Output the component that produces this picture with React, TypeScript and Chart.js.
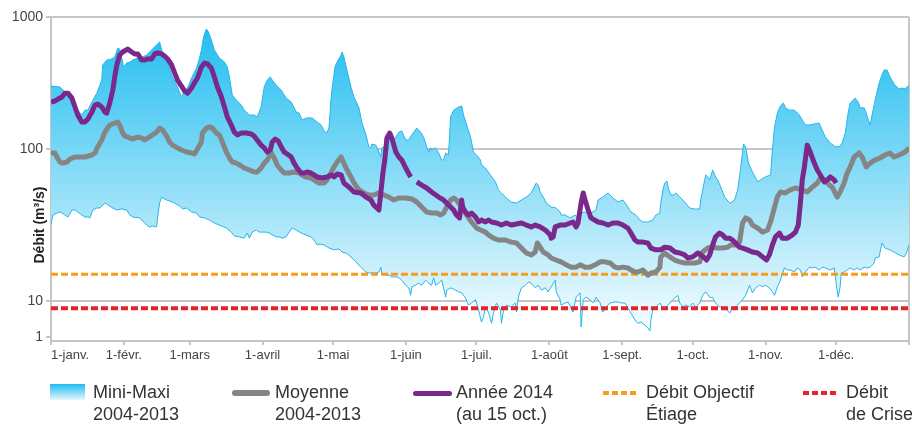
import React, { useEffect, useRef } from 'react';
import { Chart, registerables, LogarithmicScale } from 'chart.js';

Chart.register(...registerables);

// ---------- data ----------
const monthDays = [0, 31, 59, 90, 120, 151, 181, 212, 243, 273, 304, 334, 365];
const monthLabels = ['1-janv.', '1-févr.', '1-mars', '1-avril', '1-mai', '1-juin', '1-juil.', '1-août', '1-sept.', '1-oct.', '1-nov.', '1-déc.', ''];
const yTicks = [1, 10, 100, 1000];
const yTitle = 'Débit (m³/s)';
const objectifEtiage = 15;
const debitCrise = 6.3;

// [day of year, m3/s]
const maxiSeries = [[0,300],[3.8,295],[5.9,270],[8.1,235],[10.2,208],[13.1,181],[14.4,197],[15.7,197],[17.4,227],[19.5,265],[21.6,333],[22,433],[23.7,472],[25.9,481],[27.1,498],[28.4,582],[29.2,572],[30.1,489],[30.9,418],[32.2,448],[33.5,456],[34.8,472],[36.9,489],[39,498],[40.7,515],[42.8,563],[44.9,614],[46.2,647],[47.1,563],[47.5,534],[49.6,448],[51.7,351],[53.8,295],[55.5,248],[56.8,280],[58.1,290],[59.8,345],[61.9,411],[63.2,489],[64,563],[64.9,705],[66.1,811],[67,769],[68.2,670],[69.5,563],[71.6,489],[73.8,456],[75,418],[75.9,351],[77.1,256],[78.8,235],[81,215],[82.2,197],[84.4,181],[86.5,181],[87.7,175],[89.4,208],[90.7,295],[92,333],[93.3,351],[94.1,333],[95.8,305],[97.9,280],[100,243],[102.2,227],[104.3,191],[105.6,187],[106.8,166],[108.9,172],[111.1,172],[113.2,160],[114.9,152],[116.2,137],[117.4,132],[118.3,147],[119.1,235],[119.5,280],[120.8,418],[121.7,456],[123.4,515],[123.8,543],[124.6,498],[125.9,396],[127.6,295],[128.9,248],[131,205],[132.3,157],[134,128],[135.2,104],[136.1,102],[136.5,109],[138.2,107],[139.5,95.5],[140.3,88.6],[140.7,102],[141.6,104],[142.9,107],[144.6,128],[145.8,117],[148,134],[149.2,137],[150.9,117],[152.2,117],[153.5,128],[155.6,144],[157.3,134],[158.5,123],[159.8,104],[160.7,95.5],[161.5,102],[161.9,98.5],[163.6,102],[164.9,94.1],[166.2,84.7],[167,84.7],[167.9,94.1],[169.1,91.3],[170,175],[171.3,197],[173.4,208],[174.7,212],[175.5,181],[176.8,152],[178.5,123],[179.7,95.5],[181,91.3],[182.7,84.7],[183.1,78.5],[184.8,75],[186.9,67.5],[189.1,60.7],[190.3,53.8],[191.6,51.4],[193.7,47.6],[195.8,44.8],[198,44.1],[200.1,46.2],[202.2,48.3],[204.3,51.4],[206,57.9],[206.4,59.7],[207.3,57.9],[208.1,52.1],[209.4,48.3],[210.7,44.1],[212.8,41.5],[214.9,40.9],[216.6,38.5],[217,36.8],[218.7,36.8],[220.9,35.2],[223,36.8],[224.2,35.2],[225.5,37.9],[227.2,38.5],[229.7,37.9],[231.9,39.7],[232.7,46.2],[234.8,48.3],[237,51.4],[239.1,47.6],[241.2,44.8],[243.3,46.2],[245.4,41.5],[246.7,38.5],[248.8,36.8],[250.5,34.1],[251.8,33.1],[253.9,33.1],[256,34.1],[257.3,36.8],[259,37.9],[259.4,44.1],[260.3,53.8],[261.1,59.7],[262,61.6],[262.8,53.8],[263.7,49.8],[264.9,49.8],[265.8,51.4],[267.5,48.3],[269.6,44.8],[271.7,40.9],[273.8,40.3],[276,40.3],[276.4,46.2],[278.1,62.6],[278.5,67.5],[279.4,65.5],[280.2,62.6],[281.5,72.8],[282.3,67.5],[283.6,62.6],[284.9,56.2],[286.6,48.3],[288.3,44.8],[289.1,44.1],[290.8,46.2],[292.1,53.8],[293.3,72.8],[294.6,109],[295.5,104],[296.7,80.8],[298.4,70.6],[300.6,60.7],[301.8,62.6],[303.9,65.5],[306.1,67.5],[306.9,98.5],[307.8,147],[309,187],[310.3,212],[311.6,223],[312.4,205],[314.1,197],[316.2,197],[317.1,191],[318.3,181],[319.6,166],[320.9,152],[322.6,152],[324.7,155],[326.8,157],[327.7,144],[329.4,123],[331.5,111],[333.6,104],[335.3,104],[336.6,111],[337.9,132],[339.1,187],[340,223],[342.1,243],[343.4,227],[344.2,205],[345.9,205],[346.8,187],[348,160],[348.5,152],[349.3,181],[350.6,235],[352.3,316],[353.5,364],[354.4,396],[355.7,396],[356.9,351],[359,305],[360.8,285],[362,290],[363.3,285],[365,305]];

const miniSeries = [[0,32],[0.8,36.8],[2.5,37.9],[3.8,38.5],[4.7,37.9],[5.9,36.8],[7.2,35.7],[8.9,39.7],[10.2,39.7],[11.4,38.5],[13.1,36.8],[14.4,35.7],[15.7,35.7],[16.5,35.2],[17.8,39.7],[19.5,40.9],[20.8,40.9],[22,42.8],[23.3,44.1],[24.2,42.8],[26.3,40.9],[28,39.7],[30.1,40.3],[32.2,39.7],[33.5,36.8],[34.8,35.7],[37.7,35.2],[40.7,31.6],[42,30.7],[43.2,31.2],[44.9,30.7],[45.4,35.7],[46.2,44.1],[47.1,48.3],[47.5,47.6],[49.2,46.2],[51.7,44.8],[54.7,42.2],[56,40.3],[57.7,40.9],[59.8,38.5],[61.9,37.9],[63.2,35.7],[65.3,35.2],[67.4,34.1],[69.5,32.6],[71.6,31.6],[74.6,30.2],[76.7,28.4],[78,26.8],[80.1,26.4],[82.2,25.9],[83.5,28],[84.4,25.9],[85.6,28.4],[87.3,29.3],[88.6,28.4],[91.6,28.4],[92.8,28],[95.8,26.4],[97.1,26.4],[98.3,25.9],[100,26.4],[101.3,28.4],[102.6,30.2],[104.3,29.3],[106.4,28],[108.5,27.2],[110.6,26.4],[111.9,25.2],[113.2,23.4],[114,23.7],[116.2,23.4],[118.3,22.3],[120.4,21.7],[122.5,22],[123.8,21],[125.5,20.7],[127.6,19.5],[129.7,18.1],[131.8,16.7],[134,15.5],[135.2,15.3],[138.2,15.3],[139.5,15.5],[140.3,16.7],[140.7,15.3],[142.4,14.8],[143.7,14.8],[145,14.4],[146.7,14.4],[148,14.2],[149.2,13.7],[150.9,12.7],[152.2,12.2],[153,10.9],[153.5,12.4],[155.1,12.7],[156.4,13.1],[157.7,12.7],[159.4,13.7],[160.7,13.1],[161.9,12.7],[162.8,14.2],[163.6,12.7],[164.9,13.1],[166.2,13.7],[167.9,10.6],[168.3,11.8],[170,12.2],[172.1,11.8],[173.4,11.5],[174.7,11.3],[176.3,10.5],[177.6,7.7],[178.9,8.8],[180.6,10.2],[181.9,5.6],[183.1,2.6],[184,3.6],[184.8,6.8],[186.1,4.9],[187.4,2.4],[188.2,4.6],[189.5,8.8],[191.2,5.6],[191.6,2.4],[192.5,5.6],[193.7,7.7],[195.8,6.8],[197.5,8.8],[198,4.9],[198.8,10.6],[200.1,12.2],[201.8,12.7],[203.1,13.3],[204.3,13.1],[206,12.2],[207.3,12.7],[208.6,11.8],[210.3,12.2],[211.5,11.5],[212.8,12.4],[214.5,13.7],[214.9,11.5],[216.6,10.2],[217,7.7],[218.7,8.8],[220,9.4],[222.1,4.9],[223.4,10.6],[225.1,11.3],[225.5,1.9],[226.4,10.2],[227.6,10.6],[229.3,10.2],[230.6,8.8],[231.9,10.6],[233.6,8.8],[234.8,4.9],[236.1,6.8],[237.8,8.8],[239.9,9.4],[241.2,9.4],[242.5,8.8],[244.2,8.8],[245.4,6.4],[246.7,4.6],[248.4,3],[249.7,2.4],[251,2.6],[252.7,2.15],[253.9,1.8],[254.8,1.47],[255.2,3],[256,5.6],[257.3,6.8],[259,8.8],[260.3,6.4],[261.6,6.8],[263.3,8.8],[264.5,10.2],[265.8,10.6],[266.6,10.9],[267.5,8.8],[268.8,6.8],[270,7.7],[271.7,6.8],[273,8.8],[274.3,6.8],[276,8.8],[277.2,10.9],[278.5,11.5],[280.2,10.6],[281.5,10.5],[282.7,8.8],[284.4,6.8],[285.7,6.8],[287,6.4],[288.7,4.6],[289.9,6.4],[291.2,6.8],[292.9,8.8],[294.2,10.2],[295.5,10.9],[297.2,12.7],[298.4,11.3],[299.7,12.2],[301.4,12.7],[302.7,12.4],[303.9,12.7],[305.6,12.2],[306.9,11.5],[307.8,10.9],[309,12.4],[310.3,13.7],[312,16.5],[313.3,16],[314.5,16],[316.2,15.5],[317.5,16.5],[318.8,16],[319.6,14.4],[320.9,15.5],[322.6,16.7],[323.9,16.5],[325.1,16.7],[326.8,16],[328.1,16.7],[329.4,16.5],[331.5,16],[333.2,16.5],[334,13.1],[334.9,10.6],[335.7,12.4],[336.2,15.3],[337.4,15.5],[338.7,16],[340,16.5],[341.7,16],[342.9,16.5],[344.2,16],[345.9,16.7],[347.2,16.5],[348.5,16.7],[350.2,17.8],[350.6,19.2],[352.3,19.5],[353.5,24.1],[354.8,22.3],[356.9,21.7],[358.6,21],[360.8,20.1],[362.9,19.5],[364.1,21],[365,23.4]];

const moyenneSeries = [[0,94.1],[1.7,94.1],[2.5,88.6],[3.8,82.1],[5.1,80.8],[6.8,82.1],[8.1,86],[10.2,88.6],[14.4,88.6],[17.4,91.3],[18.7,94.1],[19.9,104],[21.6,117],[22.9,134],[25,152],[27.1,157],[28.4,160],[29.2,152],[30.5,132],[31.4,125],[32.6,123],[34.8,119],[35.6,121],[36.9,123],[38.6,121],[39.8,117],[41.1,121],[43.2,128],[44.9,134],[46.2,144],[47.5,139],[49.2,125],[50.4,113],[51.7,107],[53.8,102],[55.5,98.5],[57.7,95.5],[59.8,94.1],[61,92.7],[62.3,100],[64,113],[64.4,132],[66.1,144],[67.4,147],[68.7,144],[70.4,132],[71.6,128],[72.9,113],[74.6,95.5],[75.9,87.3],[77.1,82.1],[78.8,80.8],[81,77.3],[82.2,75],[84.4,72.8],[86.5,70.6],[87.7,70.6],[89.4,75],[90.7,80.8],[92,84.7],[93.7,94.1],[95,87.3],[96.2,78.5],[97.9,72.8],[99.2,69.5],[101.3,69.5],[103.4,70.6],[105.6,69.5],[106.8,67.5],[108.5,65.5],[110.6,64.5],[111.9,62.6],[114,59.7],[116.2,59.7],[117.4,62.6],[119.1,69.5],[120.4,76.2],[121.7,82.1],[123.4,88.6],[125.5,75],[127.6,65.5],[128.9,59.7],[131,53.8],[133.1,51.4],[135.2,49.8],[137.3,49.8],[139.5,51.4],[141.6,49.8],[143.7,48.3],[145.8,46.2],[148,47.6],[150.9,47.6],[153.5,46.9],[155.6,44.8],[157.7,41.5],[159.8,38.5],[161.9,37.9],[164.1,37.9],[165.7,36.8],[167,37.9],[168.3,41.5],[170,46.2],[171.3,47.6],[172.5,46.2],[174.7,41.5],[176.8,36.8],[178.9,33.1],[181,30.2],[182.7,29.3],[184.8,28.4],[186.1,27.2],[188.2,25.9],[190.3,25.2],[193.3,25.2],[195.8,24.4],[198,24.1],[200.1,22.3],[202.2,20.7],[204.3,20.1],[206,21],[206.9,24.1],[208.1,22.6],[209.4,21],[211.5,20.1],[212.8,19.2],[214.9,18.6],[217,18.1],[219.2,17.3],[221.3,16.7],[223.4,16.7],[225.1,17.3],[227.2,16.7],[229.3,16.7],[231.5,17.3],[233.6,18.1],[235.7,18.1],[237.8,17.8],[239.9,16.7],[241.2,16.5],[243.3,16.7],[245.4,16.5],[246.7,16],[248.4,15.5],[249.7,15.5],[251.8,16],[253.9,14.8],[255.2,15.3],[257.3,15.5],[259,16.7],[259.4,19.5],[261.1,20.7],[263.3,19.5],[265.4,18.6],[267.5,18.1],[269.6,17.8],[273.8,17.8],[276,18.1],[277.2,21],[279.4,22.3],[281.5,22.6],[283.6,22.3],[285.7,22.3],[287.8,22.6],[289.1,23.4],[291.2,23.4],[292.9,24.4],[294.2,32.6],[295.5,35.2],[297.2,34.1],[298.4,31.6],[300.6,30.2],[302.7,28.4],[304.8,29.3],[306.1,33.1],[307.8,41.5],[309,48.3],[310.3,52.1],[312.4,51.4],[314.5,53.8],[316.7,55.4],[319.6,53.8],[321.7,52.1],[323.9,56.2],[326,59.7],[327.3,64.5],[329,62.6],[331.1,57.9],[332.3,56.2],[334.5,48.3],[335.7,52.1],[337.4,59.7],[338.7,69.5],[340,76.2],[341.7,88.6],[343.8,94.1],[345.1,88.6],[346.8,76.2],[348.5,80.8],[350.6,84.7],[352.7,87.3],[354.8,91.3],[356.9,94.1],[358.6,88.6],[360.8,91.3],[363.3,95.5],[365,102]];

const annee2014Series = [[0,227],[1.7,231],[3,239],[4.7,248],[5.9,265],[7.2,265],[8.9,243],[10.2,208],[11.4,181],[13.1,160],[14.4,160],[15.7,169],[17.4,191],[18.7,215],[19.9,219],[21.6,208],[22.9,191],[23.7,187],[25,223],[26.3,280],[27.1,351],[28,433],[29.2,515],[30.5,543],[32.6,572],[34.3,543],[35.6,525],[36.9,525],[38.6,472],[39.8,472],[41.1,481],[42.8,481],[44.1,525],[45.4,534],[47.1,525],[48.3,507],[49.6,481],[51.3,433],[52.6,377],[53.8,333],[55.5,300],[56.8,275],[58.1,265],[59.8,290],[61,316],[62.3,345],[64,418],[65.3,448],[66.6,441],[68.2,411],[69.5,351],[70.8,295],[72.5,248],[73.8,208],[75,175],[76.7,152],[78,134],[79.3,128],[81,132],[83.1,132],[85.2,130],[86.5,125],[87.7,117],[89.4,107],[90.7,102],[92,95.5],[93.3,98.5],[94.1,113],[95.4,119],[96.7,115],[97.9,104],[99.2,95.5],[100.5,92.7],[102.2,88.6],[103.4,80.8],[104.7,75],[106.4,69.5],[107.7,69.5],[108.9,70.6],[110.6,69.5],[111.9,67.5],[113.2,65.5],[115.3,64.5],[117.4,65.5],[119.1,67.5],[120.4,65.5],[121.7,68.5],[123.4,67.5],[124.6,59.7],[126.7,56.2],[128.9,52.1],[131.8,51.4],[134,48.3],[136.1,46.2],[137.3,42.8],[138.6,40.9],[139.5,39.7],[140.3,51.4],[141.2,69.5],[142,84.7],[142.9,121],[144.1,132],[145,121],[146.7,95.5],[148,88.6],[149.2,84.7],[150.9,75],[153,65.5],[154.3,null],[155.6,60.7],[157.7,57.9],[159.8,55.4],[161.9,52.1],[164.9,48.3],[167,46.2],[169.1,42.8],[171.3,39.7],[172.5,36.8],[173.8,35.2],[174.7,46.2],[175.1,41.5],[176.3,38.5],[177.6,36.8],[178.9,37.9],[180.6,35.7],[181.9,33.1],[183.1,34.1],[184.8,33.1],[186.1,34.1],[187.4,33.1],[189.5,32.6],[191.6,31.6],[193.7,32.6],[195.8,31.6],[198,32.1],[200.1,32.6],[202.2,31.6],[204.3,30.7],[206,31.6],[208.1,30.7],[210.3,29.3],[212.4,27.2],[212.8,25.9],[213.6,26.4],[214.5,30.7],[216.6,31.6],[218.7,31.6],[220.9,32.6],[222.1,33.1],[223.4,30.7],[224.2,32.6],[225.5,44.1],[226.4,51.4],[227.2,46.2],[228.5,39.7],[229.7,35.2],[232.7,33.1],[234.8,32.6],[237,31.6],[239.1,32.6],[241.2,32.6],[243.3,31.6],[245.4,30.2],[246.7,28],[248.4,25.2],[249.7,24.4],[251.8,24.4],[253.9,24.1],[255.2,22.3],[257.3,21.7],[259.4,21.7],[261.1,22.6],[263.3,22.3],[265.4,21],[267.5,20.7],[269.6,20.1],[270.9,19.2],[273,19.5],[275.1,20.7],[276.4,20.1],[278.1,19.2],[278.9,18.6],[280.2,20.1],[281.5,23.4],[282.7,26.4],[284.4,28],[285.7,27.2],[287,25.9],[288.7,25.9],[289.9,25.2],[291.2,24.1],[292.9,22.6],[294.2,22.3],[296.3,21.7],[298.4,21],[300.6,20.7],[302.7,19.5],[304.4,18.6],[305.6,20.1],[306.9,23.4],[308.2,26.4],[309.9,28],[311.1,25.9],[313.3,25.9],[315.4,27.2],[316.7,28.4],[317.9,31.6],[318.8,44.1],[319.6,62.6],[320.5,76.2],[321.7,107],[323,95.5],[324.7,80.8],[326,72.8],[327.3,67.5],[329,60.7],[330.2,62.6],[331.5,65.5],[333.2,62.6],[334,59.7]];

const legendEntries = [
  { lines: ['Mini-Maxi', '2004-2013'], kind: 'area' },
  { lines: ['Moyenne', '2004-2013'], kind: 'line' },
  { lines: ['Année 2014', '(au 15 oct.)'], kind: 'line' },
  { lines: ['Débit Objectif', 'Étiage'], kind: 'dash' },
  { lines: ['Débit', 'de Crise'], kind: 'dash' },
];

// ---------- styles ----------
const FONT = '"Liberation Sans", Arial, sans-serif';
const GRID = '#c6c6c6';
const BLUE_LINE = '#26b5ea';
const GRAY = '#858585';
const PURPLE = '#7a288c';
const ORANGE = '#f59c1c';
const RED = '#e5232b';
const legendStyle = [
  { left: 50, swatch: { w: 35, h: 16, top: 3, bg: 'linear-gradient(to bottom, #1cbcf0, #e8f7fd)' } },
  { left: 232, swatch: { w: 38, h: 6, top: 9, bg: GRAY, radius: 3 } },
  { left: 413, swatch: { w: 39, h: 5, top: 10, bg: PURPLE, radius: 3 } },
  { left: 603, swatch: { w: 34, h: 4, top: 10, bg: `repeating-linear-gradient(to right, ${ORANGE} 0 6px, transparent 6px 9px)` } },
  { left: 803, swatch: { w: 34, h: 4, top: 10, bg: `repeating-linear-gradient(to right, ${RED} 0 6px, transparent 6px 9px)` } },
];

// ---------- custom scale: log axis with per-decade spacing as in the source ----------
const KNOT_LOGS = [-1 / 9, 0, 1, 2, 3];
const KNOT_DECS = [0, 4 / 324, 40 / 324, 192 / 324, 1];
function interp(v: number, xs: number[], ys: number[]) {
  let i = 0;
  while (i < xs.length - 2 && v > xs[i + 1]) i++;
  const t = (v - xs[i]) / (xs[i + 1] - xs[i]);
  return ys[i] + t * (ys[i + 1] - ys[i]);
}
class PiecewiseLogScale extends LogarithmicScale {
  static id = 'pwlog';
  static defaults = LogarithmicScale.defaults;
  buildTicks() {
    return yTicks.map((v) => ({ value: v }));
  }
  getPixelForValue(value: any) {
    if (value === null || value === undefined || isNaN(value)) return NaN;
    if (value <= 0) return this.getPixelForDecimal(0);
    return this.getPixelForDecimal(interp(Math.log10(value), KNOT_LOGS, KNOT_DECS));
  }
  getValueForPixel(pixel: number) {
    return Math.pow(10, interp(this.getDecimalForPixel(pixel), KNOT_DECS, KNOT_LOGS));
  }
}
Chart.register(PiecewiseLogScale as any);

const toPts = (s: any[]) => s.map(([x, y]) => ({ x, y }));

const yTitlePlugin = {
  id: 'yTitle',
  afterDraw(chart: any) {
    const c = chart.ctx;
    c.save();
    c.translate(44, 225);
    c.rotate(-Math.PI / 2);
    c.font = `bold 14px ${FONT}`;
    c.fillStyle = '#222';
    c.textAlign = 'center';
    c.textBaseline = 'alphabetic';
    c.fillText(yTitle, 0, 0);
    c.restore();
  },
};

export default function App() {
  const ref = useRef<HTMLCanvasElement>(null);
  useEffect(() => {
    document.body.style.margin = '0';
    const canvas = ref.current!;
    const areaFill = (ctx: any) => {
      const { chart } = ctx;
      const ca = chart.chartArea;
      if (!ca) return 'rgba(30,190,240,0.6)';
      const g = chart.ctx.createLinearGradient(0, ca.top, 0, ca.bottom);
      g.addColorStop(0, '#19bbf0');
      g.addColorStop(1, '#ffffff');
      return g;
    };
    const chart = new Chart(canvas, {
      type: 'line',
      data: {
        datasets: [
          { label: 'Année 2014 (au 15 oct.)', data: toPts(annee2014Series), borderColor: PURPLE, borderWidth: 5, fill: false, order: 0, spanGaps: false },
          { label: 'Moyenne 2004-2013', data: toPts(moyenneSeries), borderColor: GRAY, borderWidth: 5, fill: false, order: 1 },
          { label: 'Débit Objectif Étiage', data: [{ x: 0, y: objectifEtiage }, { x: 365, y: objectifEtiage }], borderColor: ORANGE, borderWidth: 3, borderDash: [7, 3], fill: false, order: 2 },
          { label: 'Débit de Crise', data: [{ x: 0, y: debitCrise }, { x: 365, y: debitCrise }], borderColor: RED, borderWidth: 4, borderDash: [7, 3], fill: false, order: 2 },
          { label: 'Mini 2004-2013', data: toPts(miniSeries), borderColor: BLUE_LINE, borderWidth: 1, fill: false, order: 3 },
          { label: 'Maxi 2004-2013', data: toPts(maxiSeries), borderColor: BLUE_LINE, borderWidth: 1, fill: '-1', backgroundColor: areaFill, order: 3 },
        ] as any,
      },
      options: {
        responsive: false,
        animation: false,
        events: [],
        parsing: true as any,
        elements: {
          point: { radius: 0 },
          line: { tension: 0, borderJoinStyle: 'round', borderCapStyle: 'butt' },
        },
        layout: { padding: { top: 17, right: 1, bottom: 59, left: 0 } },
        plugins: { legend: { display: false }, tooltip: { enabled: false }, title: { display: false } },
        scales: {
          x: {
            type: 'linear',
            min: 0,
            max: 365,
            afterBuildTicks: (s: any) => { s.ticks = monthDays.map((v) => ({ value: v })); },
            afterFit: (s: any) => { s.height = 25; },
            ticks: {
              autoSkip: false,
              maxRotation: 0,
              align: 'inner',
              padding: 3,
              color: '#444',
              font: { family: FONT, size: 13 },
              callback: (v: any) => { const i = monthDays.indexOf(v); return i >= 0 ? monthLabels[i] : ''; },
            },
            grid: {
              drawOnChartArea: true,
              color: (ctx: any) => (ctx.tick && ctx.tick.value === 365 ? GRID : 'rgba(0,0,0,0)'),
              tickColor: GRID,
              tickLength: 4,
              lineWidth: 2,
            },
            border: { color: GRID, width: 2 },
          },
          y: {
            type: 'pwlog' as any,
            min: Math.pow(10, -1 / 9),
            max: 1000,
            afterFit: (s: any) => { s.width = 51; },
            ticks: {
              autoSkip: false,
              padding: 3,
              color: '#444',
              font: { family: FONT, size: 14 },
              callback: (v: any) => String(v),
            },
            grid: {
              color: (ctx: any) => (ctx.tick && ctx.tick.value === 1 ? 'rgba(0,0,0,0)' : GRID),
              tickColor: GRID,
              tickLength: 5,
              lineWidth: 2,
            },
            border: { color: GRID, width: 2 },
          },
        },
      } as any,
      plugins: [yTitlePlugin],
    });
    return () => chart.destroy();
  }, []);

  return (
    <div style={{ position: 'relative', width: 912, height: 425, overflow: 'hidden', background: '#fff', fontFamily: FONT }}>
      <canvas ref={ref} width={912} height={425} style={{ position: 'absolute', left: 0, top: 0 }} />
      {legendEntries.map((e, i) => {
        const st = legendStyle[i];
        return (
          <div key={i} style={{ position: 'absolute', left: st.left, top: 381, height: 44 }}>
            <div style={{ position: 'absolute', left: 0, top: st.swatch.top, width: st.swatch.w, height: st.swatch.h, background: st.swatch.bg, borderRadius: st.swatch.radius || 0 }} />
            <div style={{ position: 'absolute', left: 43, top: 0, fontSize: 18, lineHeight: '22px', color: '#333', whiteSpace: 'nowrap' }}>
              {e.lines.map((l, j) => <div key={j}>{l}</div>)}
            </div>
          </div>
        );
      })}
    </div>
  );
}
